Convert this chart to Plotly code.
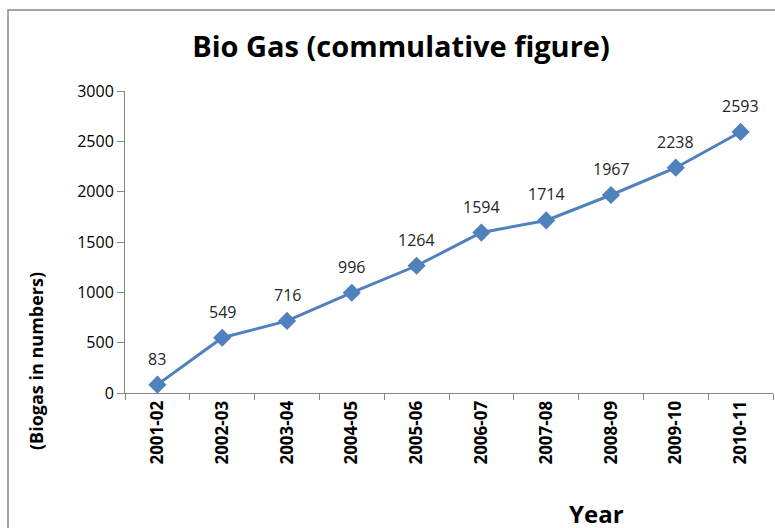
import plotly.graph_objects as go

years = ["2001-02", "2002-03", "2003-04", "2004-05", "2005-06",
         "2006-07", "2007-08", "2008-09", "2009-10", "2010-11"]
biogas = [83, 549, 716, 996, 1264, 1594, 1714, 1967, 2238, 2593]
y_ticks = [0, 500, 1000, 1500, 2000, 2500, 3000]

W, H = 775, 528
L, R, T, B = 125, 2, 91, 135
pw = W - L - R
ph = H - T - B
FONT = "Open Sans, sans-serif"

def px_x(x):
    return (x - L) / pw

def px_y(y):
    return (H - B - y) / ph

fig = go.Figure()
fig.add_trace(go.Scatter(
    x=years, y=biogas, mode="lines+markers",
    line=dict(color="#4F81BD", width=3),
    marker=dict(symbol="diamond", size=14, color="#4F81BD"),
    cliponaxis=False, showlegend=False,
))

label_anns = [
    dict(x=yr, y=v, xref="x", yref="y", text=str(v), showarrow=False,
         yshift=26, xanchor="center", yanchor="middle",
         font=dict(family=FONT, size=16, color="#262626"))
    for yr, v in zip(years, biogas)
]

fig.update_layout(
    template="none",
    width=W, height=H,
    margin=dict(l=L, r=R, t=T, b=B, autoexpand=False),
    paper_bgcolor="white", plot_bgcolor="white",
    title=dict(text="<b>Bio Gas (commulative figure)</b>",
               x=px_x(401), xanchor="center", xref="paper",
               y=1 - 47 / H, yanchor="middle",
               font=dict(family=FONT, size=29, color="#000000")),
    xaxis=dict(type="category", tickangle=-90, tickson="boundaries",
               ticks="outside", ticklen=6, tickcolor="#868686",
               showline=True, linecolor="#868686", linewidth=1,
               showgrid=False, zeroline=False, automargin=False,
               range=[-0.5, len(years) - 0.5],
               tickfont=dict(family=FONT, size=17, color="#000000", weight="bold")),
    yaxis=dict(range=[0, 3000], tickvals=y_ticks, ticks="outside", ticklen=7,
               tickcolor="#868686", showline=True, linecolor="#868686", linewidth=1,
               showgrid=False, zeroline=False, automargin=False,
               tickfont=dict(family=FONT, size=16, color="#000000")),
    shapes=[dict(type="rect", xref="paper", yref="paper",
                 x0=px_x(8), x1=px_x(W + 10), y0=px_y(H + 10), y1=px_y(10),
                 line=dict(color="#868686", width=1.5), fillcolor="rgba(0,0,0,0)")],
    annotations=label_anns + [
        dict(text="<b>(Biogas in numbers)</b>", xref="paper", yref="paper",
             x=px_x(36), y=px_y(361), textangle=-90, showarrow=False,
             xanchor="center", yanchor="middle",
             font=dict(family=FONT, size=18, color="#000000")),
        dict(text="<b>Year</b>", xref="paper", yref="paper",
             x=px_x(596), y=px_y(H - 1), yshift=-5, showarrow=False,
             xanchor="center", yanchor="bottom",
             font=dict(family=FONT, size=24, color="#000000")),
    ],
)

fig.write_html("out.html", config={"displayModeBar": False},
               post_script="document.body.style.margin='0';document.body.style.padding='0';")
